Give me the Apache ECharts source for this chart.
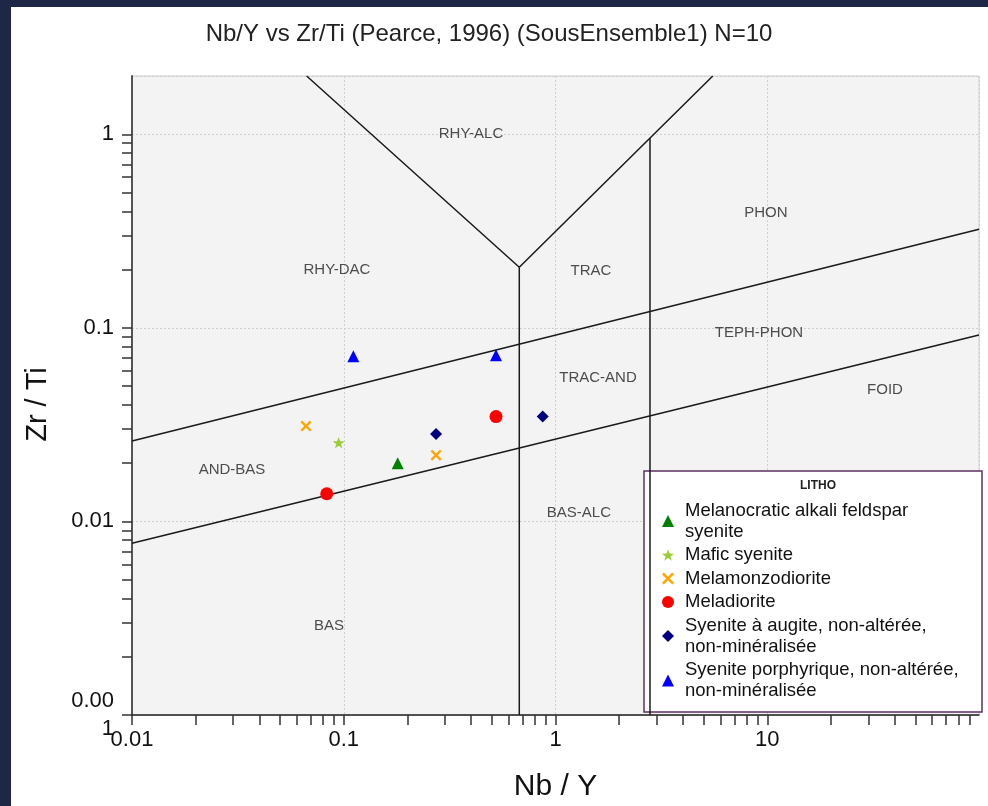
<!DOCTYPE html>
<html><head><meta charset="utf-8">
<script src="https://cdn.jsdelivr.net/npm/echarts@6/dist/echarts.min.js"></script>
<style>
html,body{margin:0;padding:0;background:#1f2747;width:988px;height:806px;overflow:hidden;}
#chart{position:absolute;left:11px;top:7px;width:977px;height:799px;background:#fff;}
</style></head><body><div id="chart"></div>
<script>
// ---- tick labels / tick values ----
const xTickLabels = [0.01, 0.1, 1, 10];
const yTickValues = [0.001, 0.01, 0.1, 1];
const yTickLabels = ['0.00\n1', '0.01', '0.1', '1'];
const xMinorTicks = [0.01,0.02,0.03,0.04,0.05,0.06,0.07,0.08,0.09,0.1,0.2,0.3,0.4,0.5,0.6,0.7,0.8,0.9,1,2,3,4,5,6,7,8,9,10,20,30,40,50,60,70,80,90];
const yMinorTicks = [0.001,0.002,0.003,0.004,0.005,0.006,0.007,0.008,0.009,0.01,0.02,0.03,0.04,0.05,0.06,0.07,0.08,0.09,0.1,0.2,0.3,0.4,0.5,0.6,0.7,0.8,0.9,1];

// ---- series (Nb/Y, Zr/Ti) ----
const seriesNames = ['Melanocratic alkali feldspar syenite','Mafic syenite','Melamonzodiorite','Meladiorite','Syenite à augite, non-altérée, non-minéralisée','Syenite porphyrique, non-altérée, non-minéralisée'];
const legendLabels = ['Melanocratic alkali feldspar\nsyenite','Mafic syenite','Melamonzodiorite','Meladiorite','Syenite à augite, non-altérée,\nnon-minéralisée','Syenite porphyrique, non-altérée,\nnon-minéralisée'];
const melanocraticSyenite = [[0.1798, 0.0200]];
const maficSyenite = [[0.0946, 0.0255]];
const melamonzodiorite = [[0.0663, 0.0311], [0.2728, 0.0220]];
const meladiorite = [[0.0831, 0.0139], [0.5236, 0.0348]];
const syeniteAugite = [[0.2728, 0.0283], [0.870, 0.0348]];
const syenitePorphyrique = [[0.1110, 0.0714], [0.5236, 0.0722]];

// ---- field boundaries (Pearce 1996) ----
const boundaryUpper = [[0.01, 0.0260], [100, 0.323]];
const boundaryLower = [[0.01, 0.00772], [100, 0.0919]];
const boundaryV = [[0.0668, 2], [0.6745, 0.2056], [5.53, 2]];
const boundaryStem = [[0.6745, 0.2056], [0.6745, 0.001]];
const boundaryRight = [[2.794, 0.001], [2.794, 0.9535]];

// ---- field names ----
const fieldNames = ['RHY-ALC','RHY-DAC','TRAC','PHON','TEPH-PHON','TRAC-AND','FOID','AND-BAS','BAS-ALC','BAS'];
const fieldX = [0.399, 0.0929, 1.47, 9.86, 9.14, 1.587, 35.97, 0.02967, 1.29, 0.0852];
const fieldY = [1.0, 0.199, 0.197, 0.392, 0.0942, 0.0551, 0.0478, 0.01846, 0.01107, 0.00289];

const FONT = "'Liberation Sans', Arial, sans-serif";
const crossPath = 'path://M0,1.5 L1.5,0 L5,3.5 L8.5,0 L10,1.5 L6.5,5 L10,8.5 L8.5,10 L5,6.5 L1.5,10 L0,8.5 L3.5,5 Z';
const starPath = 'path://M5,0 L6.18,3.38 L9.76,3.45 L6.9,5.62 L7.94,9.05 L5,7 L2.06,9.05 L3.1,5.62 L0.24,3.45 L3.82,3.38 Z';

const pointData = [melanocraticSyenite, maficSyenite, melamonzodiorite, meladiorite, syeniteAugite, syenitePorphyrique];
const pointColors = ['#008000', '#9acd32', '#ffa500', '#ff0000', '#000080', '#0000ff'];
const pointSymbols = ['triangle', starPath, crossPath, 'circle', 'diamond', 'triangle'];
const pointSizes = [12, 12, 11, 13, 12, 12];

function near(a, b) { return Math.abs(a - b) / b < 1e-6; }

const chart = echarts.init(document.getElementById('chart'), null, {renderer: 'canvas'});

const lineStyleB = {color: '#1a1a1a', width: 1.5};
function boundary(data) {
  return {type: 'line', data: data, symbol: 'none', lineStyle: lineStyleB, z: 4, silent: true, xAxisIndex: 0, yAxisIndex: 0};
}

const series = [
  boundary(boundaryUpper), boundary(boundaryLower), boundary(boundaryV), boundary(boundaryStem), boundary(boundaryRight),
  {
    type: 'scatter', symbolSize: 0, silent: true, z: 3,
    data: fieldNames.map((n, i) => ({name: n, value: [fieldX[i], fieldY[i]]})),
    label: {show: true, position: 'inside', formatter: '{b}', fontSize: 15, color: '#222', fontFamily: FONT}
  }
];
seriesNames.forEach((n, i) => {
  series.push({
    type: 'scatter', name: n, data: pointData[i], symbol: pointSymbols[i], symbolSize: pointSizes[i],
    symbolKeepAspect: true,
    itemStyle: {color: pointColors[i], opacity: 1}, z: 5
  });
});

const option = {
  animation: false,
  textStyle: {fontFamily: FONT},
  grid: {left: 121, top: 69, right: 9, bottom: 91, show: true, backgroundColor: '#f3f3f3', borderColor: '#cccccc', borderWidth: 1, containLabel: false, outerBoundsMode: 'none'},
  xAxis: [
    {
      type: 'log', logBase: 10, min: 0.01, max: 100, position: 'bottom',
      name: 'Nb / Y', nameLocation: 'middle', nameGap: 57,
      nameTextStyle: {fontSize: 30, color: '#111', fontFamily: FONT},
      axisLine: {show: true, onZero: false, lineStyle: {color: '#222', width: 1.5}},
      axisTick: {show: false},
      axisLabel: {show: true, margin: 14, fontSize: 22, color: '#111', fontFamily: FONT,
        formatter: v => { const t = xTickLabels.find(t => near(v, t)); return t === undefined ? '' : String(t); }},
      splitLine: {show: true, lineStyle: {color: '#cfcfcf', type: [2, 2], width: 1}},
      minorTick: {show: false}, minorSplitLine: {show: false}
    },
    {
      type: 'log', logBase: 10, min: 0.01, max: 100, position: 'bottom',
      axisLine: {show: false}, axisLabel: {show: false}, splitLine: {show: false},
      axisTick: {show: true, inside: false, length: 10, customValues: xMinorTicks, lineStyle: {color: '#333', width: 1.5}}
    }
  ],
  yAxis: [
    {
      type: 'log', logBase: 10, min: 0.001, max: 2, position: 'left',
      name: 'Zr / Ti', nameLocation: 'middle', nameGap: 80, nameRotate: 90,
      nameTextStyle: {fontSize: 29, color: '#111', fontFamily: FONT, padding: [0, 18, 0, 0]},
      axisLine: {show: true, onZero: false, lineStyle: {color: '#555', width: 2}},
      axisTick: {show: false},
      axisLabel: {show: true, margin: 18, fontSize: 22, lineHeight: 28, color: '#111', fontFamily: FONT,
        formatter: v => { const k = yTickValues.findIndex(t => near(v, t)); return k < 0 ? '' : yTickLabels[k]; }},
      splitLine: {show: true, lineStyle: {color: '#cfcfcf', type: [2, 2], width: 1}},
      minorTick: {show: false}, minorSplitLine: {show: false}
    },
    {
      type: 'log', logBase: 10, min: 0.001, max: 2, position: 'left',
      axisLine: {show: false}, axisLabel: {show: false}, splitLine: {show: false},
      axisTick: {show: true, inside: false, length: 10, customValues: yMinorTicks, lineStyle: {color: '#333', width: 1.5}}
    }
  ],
  legend: {
    show: true, orient: 'vertical', left: 651, top: 493, padding: 0, itemGap: 2.5,
    itemWidth: 12, itemHeight: 12, selectedMode: false, symbolKeepAspect: true,
    data: seriesNames,
    formatter: name => legendLabels[seriesNames.indexOf(name)],
    textStyle: {fontSize: 18.5, lineHeight: 21, color: '#111', fontFamily: FONT, padding: [0, 0, 0, 6]},
    z: 6
  },
  graphic: [
    {type: 'text', x: 478, y: 27, z: 10, style: {text: 'Nb/Y vs Zr/Ti (Pearce, 1996) (SousEnsemble1) N=10', fontSize: 24, fontFamily: FONT, fill: '#222', textAlign: 'center', textVerticalAlign: 'middle'}},
    {type: 'rect', z: 3, shape: {x: 633, y: 464, width: 338, height: 241}, style: {fill: '#ffffff', stroke: '#5e2f62', lineWidth: 1.5}},
    {type: 'text', x: 807, y: 479, z: 10, style: {text: 'LITHO', fontSize: 12, fontWeight: 'bold', fontFamily: FONT, fill: '#222', textAlign: 'center', textVerticalAlign: 'middle'}}
  ],
  series: series
};
chart.setOption(option);
</script></body></html>
